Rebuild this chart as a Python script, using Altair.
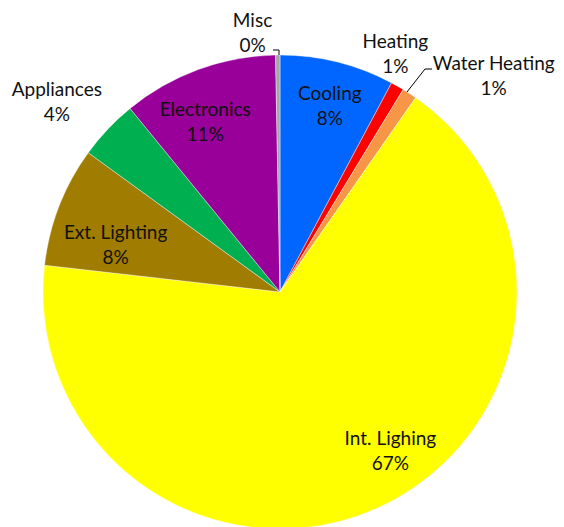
import altair as alt
import pandas as pd
import math

categories = ["Cooling", "Heating", "Water Heating", "Int. Lighing", "Ext. Lighting",
              "Appliances", "Electronics", "Misc"]
values = [7.8, 0.9, 1.0, 67.1, 8.2, 4.1, 10.6, 0.3]
pct_labels = ["8%", "1%", "1%", "67%", "8%", "4%", "11%", "0%"]
colors = ["#0066FF", "#FF0000", "#F79646", "#FFFF00", "#A07C00", "#00B050", "#990099", "#A6A6A6"]

df = pd.DataFrame({
    "cat": categories,
    "val": values,
    "order": list(range(len(categories))),
    "label": [c + "\n" + p for c, p in zip(categories, pct_labels)],
})

CX, CY, R = 272, 284, 237
FONT = "Lato"

pie = alt.Chart(df).mark_arc(stroke="white", strokeWidth=0.4).encode(
    theta=alt.Theta("val:Q", stack=True),
    order=alt.Order("order:Q"),
    x=alt.value(CX), y=alt.value(CY), radius=alt.value(R),
    color=alt.Color("cat:N", scale=alt.Scale(domain=categories, range=colors), legend=None),
)

# label angle = middle of each slice, computed from the data
lab = alt.Chart(df).transform_joinaggregate(
    total="sum(val)"
).transform_window(
    cum="sum(val)", sort=[alt.SortField("order")], frame=[None, 0]
).transform_calculate(
    mid="(datum.cum - datum.val / 2) / datum.total"
)

# per-label placement: (radius, dx, dy)
placement = {
    "Cooling": (193, 3, -11),
    "Heating": (263, -15, -22),
    "Water Heating": (263, 70, -8),
    "Int. Lighing": (193, 31, -29),
    "Ext. Lighting": (171, -5, 3),
    "Appliances": (263, -32, -21),
    "Electronics": (185, -11, -8),
    "Misc": (263, -25, -8),
}

layers = [pie]
for cat, (r, dx, dy) in placement.items():
    layers.append(
        lab.mark_text(font=FONT, fontSize=19, color="#111111", lineBreak="\n",
                      lineHeight=25, baseline="middle", align="center",
                      radius=r, dx=dx, dy=dy)
        .encode(
            theta=alt.Theta("mid:Q", stack=None,
                            scale=alt.Scale(domain=[0, 1], range=[0, 2 * math.pi])),
            x=alt.value(CX), y=alt.value(CY), text="label:N")
        .transform_filter(alt.datum.cat == cat)
    )

# leader lines
leader = pd.DataFrame({
    "seg": ["w", "w", "w", "m", "m", "m"],
    "i": [0, 1, 2, 0, 1, 2],
    "px": [424, 417, 399, 265, 271, 271],
    "py": [61, 61, 84, 42, 42, 47],
})
lines = alt.Chart(leader).mark_line(color="black", strokeWidth=1).encode(
    x=alt.X("px:Q", scale=alt.Scale(domain=[0, 548], range=[0, 548]), axis=None),
    y=alt.Y("py:Q", scale=alt.Scale(domain=[0, 520], range=[0, 520]), axis=None),
    detail="seg:N",
    order="i:Q",
)
layers.append(lines)

chart = alt.layer(*layers).resolve_scale(theta="independent").properties(
    width=548, height=520, autosize=alt.AutoSizeParams(type="none"), padding=0
).configure_view(stroke=None)

chart.save("out.html", embed_options={"renderer": "svg", "actions": False})
